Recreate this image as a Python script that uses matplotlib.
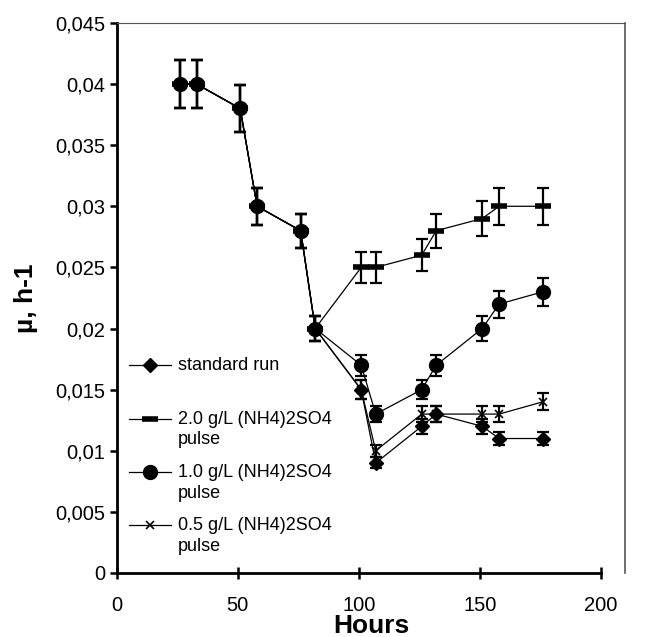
import matplotlib
matplotlib.use("Agg")
import matplotlib.pyplot as plt
from matplotlib.legend_handler import HandlerLine2D

# sampling times (h) shared by all runs
hours = [26, 33, 51, 58, 76, 82, 101, 107, 126, 132, 151, 158, 176]

# specific growth rate, h-1
std_run = [0.040, 0.040, 0.038, 0.030, 0.028, 0.020, 0.015, 0.009, 0.012, 0.013, 0.012, 0.011, 0.011]
pulse_20 = [0.040, 0.040, 0.038, 0.030, 0.028, 0.020, 0.025, 0.025, 0.026, 0.028, 0.029, 0.030, 0.030]
pulse_10 = [0.040, 0.040, 0.038, 0.030, 0.028, 0.020, 0.017, 0.013, 0.015, 0.017, 0.020, 0.022, 0.023]
pulse_05 = [0.040, 0.040, 0.038, 0.030, 0.028, 0.020, 0.015, 0.010, 0.013, 0.013, 0.013, 0.013, 0.014]

# error bars
err_std = [0.0020, 0.0020, 0.0019, 0.0015, 0.0014, 0.0010, 0.00075, 0.00045, 0.0006, 0.00065, 0.0006, 0.00055, 0.00055]
err_20 = [0.0020, 0.0020, 0.0019, 0.0015, 0.0014, 0.0010, 0.00125, 0.00125, 0.0013, 0.0014, 0.00145, 0.0015, 0.0015]
err_10 = [0.0020, 0.0020, 0.0019, 0.0015, 0.0014, 0.0010, 0.00085, 0.00065, 0.00075, 0.00085, 0.0010, 0.0011, 0.00115]
err_05 = [0.0020, 0.0020, 0.0019, 0.0015, 0.0014, 0.0010, 0.00075, 0.0005, 0.00065, 0.00065, 0.00065, 0.00065, 0.0007]

labels = ["standard run\n ",
          "2.0 g/L (NH4)2SO4\npulse",
          "1.0 g/L (NH4)2SO4\npulse",
          "0.5 g/L (NH4)2SO4\npulse"]

y_ticks = [0, 0.005, 0.01, 0.015, 0.02, 0.025, 0.03, 0.035, 0.04, 0.045]
y_ticklabels = ["0", "0,005", "0,01", "0,015", "0,02", "0,025", "0,03", "0,035", "0,04", "0,045"]
x_ticks = [0, 50, 100, 150, 200]


class FirstLineHandler(HandlerLine2D):
    # put the legend sample level with the first text line
    def create_artists(self, legend, orig_handle, xdescent, ydescent,
                       width, height, fontsize, trans):
        arts = super().create_artists(legend, orig_handle, xdescent, ydescent,
                                      width, height, fontsize, trans)
        for a in arts:
            a.set_ydata([y + 0.62 * fontsize for y in a.get_ydata()])
        return arts


plt.rcParams["font.family"] = ["Liberation Sans", "DejaVu Sans"]

fig = plt.figure(figsize=(6.45, 6.37), dpi=100)
ax = fig.add_axes([0.181, 0.1005, 0.788, 0.8635])

series = [
    (std_run, err_std, "D", 7, 1),
    (pulse_20, err_20, "_", 11, 4),
    (pulse_10, err_10, "o", 10, 1),
    (pulse_05, err_05, "x", 6, 1.2),
]

handles = []
for (vals, errs, mk, ms, mew), lab in zip(series, labels):
    ax.errorbar(hours, vals, yerr=errs, fmt="none", ecolor="black",
                elinewidth=1.6, capsize=4.5, capthick=1.6, zorder=2)
    ln, = ax.plot(hours, vals, color="black", lw=0.9, marker=mk, ms=ms,
                  mew=mew, mfc="black", mec="black", label=lab, zorder=3)
    handles.append(ln)

ax.set_xlim(0, 210)
ax.set_ylim(0, 0.045)
ax.set_xticks(x_ticks)
ax.set_yticks(y_ticks)
ax.set_yticklabels(y_ticklabels)
ax.tick_params(axis="both", labelsize=14.5, width=1.8, length=5)
ax.tick_params(axis="x", direction="inout", length=9, pad=12)

ax.spines["left"].set_linewidth(2)
ax.spines["bottom"].set_linewidth(2)
ax.spines["bottom"].set_bounds(0, 200)
ax.spines["top"].set_linewidth(0.8)
ax.spines["top"].set_color("#555555")
ax.spines["right"].set_linewidth(1.2)
ax.spines["right"].set_color("#555555")

ax.set_xlabel("Hours", fontsize=19, fontweight="bold", labelpad=-1)
ax.set_ylabel("µ, h-1", fontsize=19, fontweight="bold", labelpad=12)

leg = ax.legend(handles=handles, loc="upper left", bbox_to_anchor=(0.0, 0.415),
                frameon=False, fontsize=13, handlelength=2.3, handletextpad=0.4,
                labelspacing=0.85, borderaxespad=0.3,
                handler_map={h: FirstLineHandler() for h in handles})
for t in leg.get_texts():
    t.set_linespacing(1.3)

fig.savefig("out.png", dpi=100)
